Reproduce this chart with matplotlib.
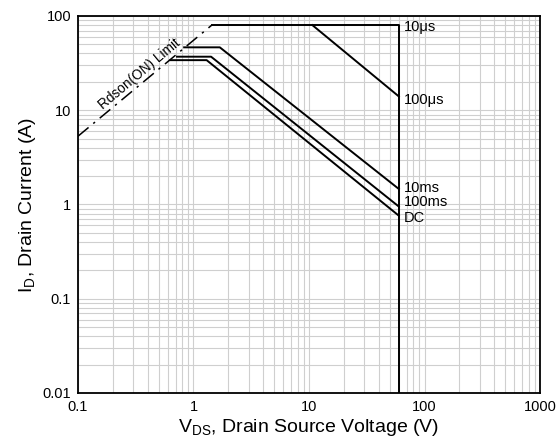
import numpy as np
from matplotlib import pyplot as plt
from matplotlib.ticker import FixedLocator, FixedFormatter, LogLocator, NullFormatter

plt.rcParams['font.family'] = ['Liberation Sans', 'DejaVu Sans']
plt.rcParams['mathtext.fontset'] = 'custom'
plt.rcParams['mathtext.rm'] = 'Liberation Sans'

# Safe operating area curves (V, A)
x_rdson = [0.1, 1.44]
y_rdson = [5.3, 80]

x_10us = [1.44, 60, 60]
y_10us = [80, 80, 0.01]

x_100us = [10.7, 60]
y_100us = [80, 14]

x_10ms = [0.83, 1.69, 60]
y_10ms = [46.5, 46.5, 1.46]

x_100ms = [0.72, 1.42, 60]
y_100ms = [37, 37, 0.95]

x_dc = [0.63, 1.30, 60]
y_dc = [34, 34, 0.76]

curve_labels = ['10\u03bcs', '100\u03bcs', '10ms', '100ms', 'DC']
label_y = [77, 12.8, 1.5, 1.07, 0.72]

xticks = [0.1, 1, 10, 100, 1000]
xtick_labels = ['0.1', '1', '10', '100', '1000']
yticks = [0.01, 0.1, 1, 10, 100]
ytick_labels = ['0.01', '0.1', '1', '10', '100']

fig = plt.figure(figsize=(5.57, 4.48), dpi=100)
ax = fig.add_axes([0.140, 0.1228, 0.8295, 0.8415])
ax.set_xscale('log')
ax.set_yscale('log')
ax.set_xlim(0.1, 1000)
ax.set_ylim(0.01, 100)

ax.xaxis.set_major_locator(FixedLocator(xticks))
ax.xaxis.set_major_formatter(FixedFormatter(xtick_labels))
ax.yaxis.set_major_locator(FixedLocator(yticks))
ax.yaxis.set_major_formatter(FixedFormatter(ytick_labels))
ax.xaxis.set_minor_locator(LogLocator(base=10, subs=np.arange(2, 10), numticks=20))
ax.yaxis.set_minor_locator(LogLocator(base=10, subs=np.arange(2, 10), numticks=20))
ax.xaxis.set_minor_formatter(NullFormatter())
ax.yaxis.set_minor_formatter(NullFormatter())
ax.tick_params(which='both', length=0, labelsize=10.5, pad=5)

ax.grid(True, which='both', color='#cfcfcf', lw=0.8)
ax.set_axisbelow(True)
for s in ax.spines.values():
    s.set_linewidth(1.3)

lw = 1.4
ax.plot(x_rdson, y_rdson, color='black', lw=1.1, linestyle=(0, (9, 4, 1.5, 4)))
ax.plot(x_10us, y_10us, color='black', lw=lw)
ax.plot(x_100us, y_100us, color='black', lw=lw)
ax.plot(x_10ms, y_10ms, color='black', lw=lw)
ax.plot(x_100ms, y_100ms, color='black', lw=lw)
ax.plot(x_dc, y_dc, color='black', lw=lw)

for lab, yy in zip(curve_labels, label_y):
    ax.text(66, yy, lab, fontsize=10.5, ha='left', va='center')

ax.annotate('Rdson(ON) Limit', xy=(0.385, 20.4), xytext=(-1.3, 1.5),
            textcoords='offset points', fontsize=9.8, rotation=40,
            ha='center', va='bottom', rotation_mode='anchor')

ax.set_xlabel(r'V$_\mathregular{DS}$, Drain Source Voltage (V)', fontsize=14, labelpad=2)
ax.set_ylabel(r'I$_\mathregular{D}$, Drain Current (A)', fontsize=14, labelpad=3)

fig.savefig('out.png', dpi=100)
